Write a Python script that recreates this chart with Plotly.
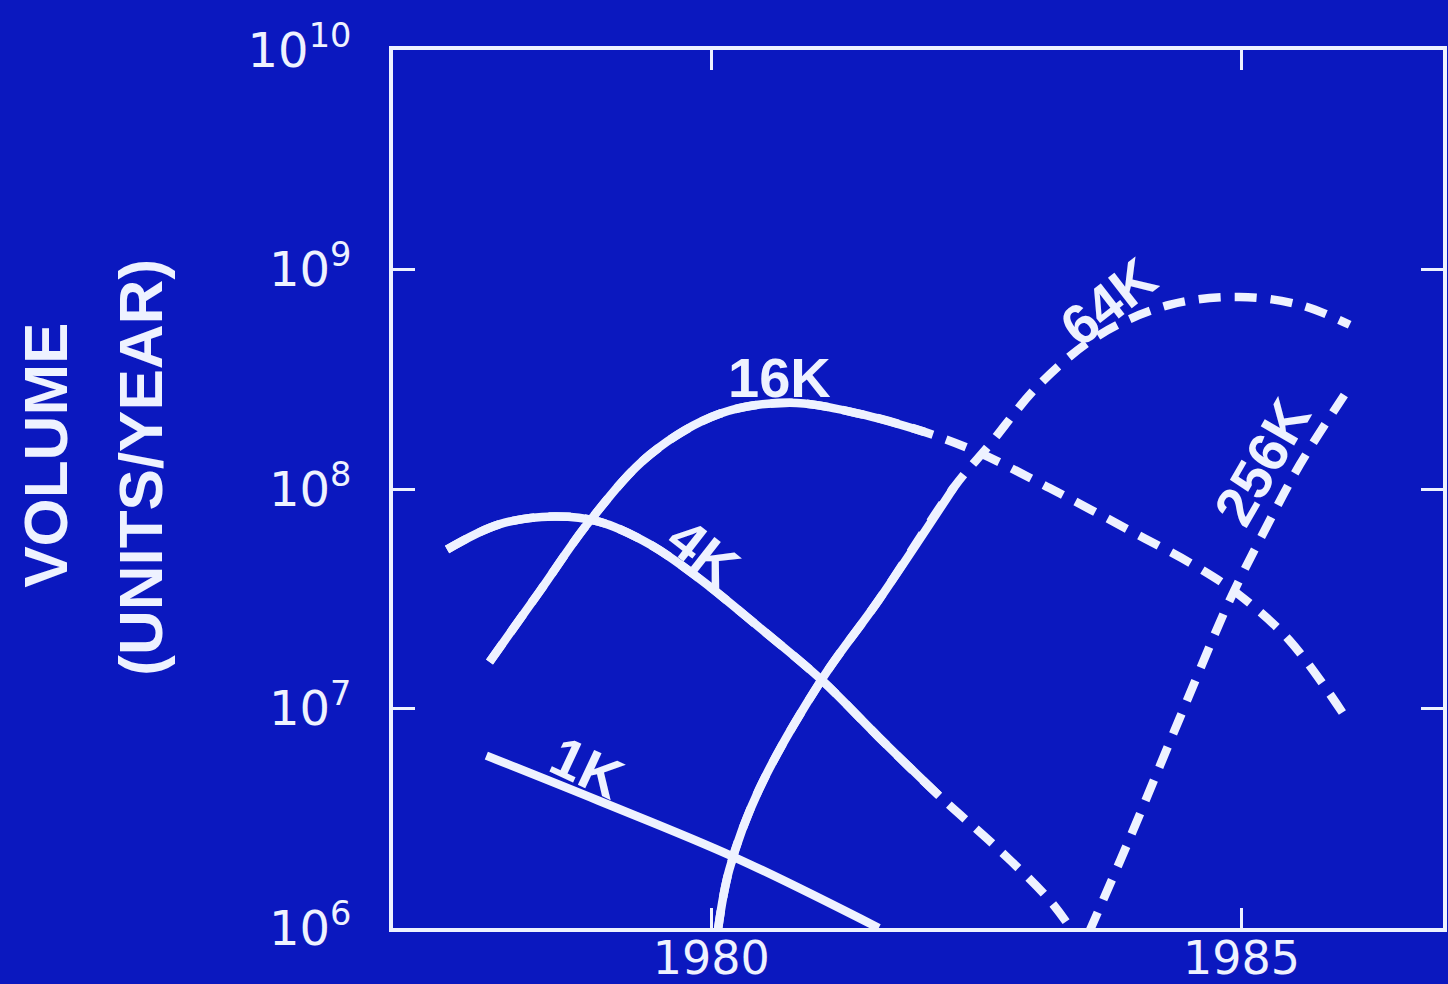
import plotly.graph_objects as go

# ---- data (year, units/year) ----
k1_year = [1977.88, 1978.94, 1980.22, 1981.58]
k1_vol = [6.1e6, 3.8e6, 2.1e6, 1.0e6]

# 4K: solid part, then dashed continuation
k4_year = [1977.51, 1978.0, 1978.52, 1978.94, 1979.42, 1979.89, 1980.45, 1981.04, 1981.58, 1982.15]
k4_vol = [5.3e7, 6.9e7, 7.5e7, 7.1e7, 5.6e7, 3.9e7, 2.35e7, 1.35e7, 7.4e6, 4.0e6]
k4d_year = [1982.72, 1983.19, 1983.42]
k4d_vol = [2.26e6, 1.34e6, 0.95e6]

k16_year = [1977.91, 1978.38, 1978.85, 1979.42, 1980.08, 1980.74, 1981.40, 1982.01]
k16_vol = [1.63e7, 3.4e7, 7.1e7, 1.43e8, 2.2e8, 2.47e8, 2.2e8, 1.82e8]
k16d_year = [1982.53, 1983.19, 1983.94, 1984.60, 1984.98, 1985.45, 1985.97]
k16d_vol = [1.46e8, 1.01e8, 6.5e7, 4.36e7, 3.29e7, 2.05e7, 9.3e6]

k64_year = [1980.06, 1980.17, 1980.45, 1981.04, 1981.58, 1982.29]
k64_vol = [0.95e6, 1.84e6, 4.26e6, 1.35e7, 3.12e7, 1.02e8]
k64d_year = [1982.62, 1983.09, 1983.66, 1984.32, 1984.98, 1985.55, 1986.02]
k64d_vol = [1.58e8, 2.98e8, 5.03e8, 6.9e8, 7.5e8, 6.9e8, 5.6e8]

k256d_year = [1983.56, 1983.94, 1984.42, 1984.89, 1985.22, 1985.55, 1985.97]
k256d_vol = [0.95e6, 2.52e6, 9.1e6, 3.12e7, 6.5e7, 1.29e8, 2.68e8]

x_tick_vals = [1980, 1985]
x_tick_text = ["1980", "1985"]
y_tick_vals = [1e6, 1e7, 1e8, 1e9, 1e10]
y_tick_text = ["10<sup>6</sup>", "10<sup>7</sup>", "10<sup>8</sup>", "10<sup>9</sup>", "10<sup>10</sup>"]

curve_labels = ["1K", "4K", "16K", "64K", "256K"]
label_year = [1978.83, 1979.93, 1980.64, 1983.75, 1985.19]
label_logvol = [6.729, 7.713, 8.506, 8.852, 8.123]
label_angle = [25, 38, 0, -38, -60]

# ---- style ----
BG = "#0b18bf"
FG = "#eef2ff"
LW = 8.5
DASH = "22px,14px"
LINE = dict(color=FG, width=LW, shape="spline", smoothing=1.0)

fig = go.Figure()

# dashed curves: whole curve drawn dashed; solid part laid over it
curves = [
    (k1_year, k1_vol, [], []),
    (k4_year, k4_vol, k4d_year, k4d_vol),
    (k16_year, k16_vol, k16d_year, k16d_vol),
    (k64_year, k64_vol, k64d_year, k64d_vol),
    ([], [], k256d_year, k256d_vol),
]
for sx, sy, dx, dy in curves:
    if dx:
        fig.add_trace(go.Scatter(x=sx + dx, y=sy + dy, mode="lines",
                                 line=dict(LINE, dash=DASH),
                                 showlegend=False, hoverinfo="skip"))
        if sx:
            fig.add_trace(go.Scatter(x=sx, y=sy, mode="lines", line=LINE,
                                     showlegend=False, hoverinfo="skip"))
    else:
        fig.add_trace(go.Scatter(x=sx, y=sy, mode="lines", line=LINE,
                                 showlegend=False, hoverinfo="skip"))

for txt, lx, ly, ang in zip(curve_labels, label_year, label_logvol, label_angle):
    fig.add_annotation(x=lx, y=ly, text=txt, showarrow=False, textangle=ang,
                       font=dict(family="Liberation Sans", size=56, color=FG, weight="bold"))

fig.add_annotation(xref="paper", yref="paper", x=-0.366, y=0.538, text="VOLUME",
                   showarrow=False, textangle=-90,
                   font=dict(family="Liberation Sans", size=62, color=FG, weight="bold"))
fig.add_annotation(xref="paper", yref="paper", x=-0.276, y=0.525, text="(UNITS/YEAR)",
                   showarrow=False, textangle=-90,
                   font=dict(family="Liberation Sans", size=62, color=FG, weight="bold"))

fig.update_layout(
    width=1448, height=984,
    margin=dict(l=393, r=5, t=50, b=56, autoexpand=False),
    paper_bgcolor=BG, plot_bgcolor=BG,
    showlegend=False,
)
fig.update_xaxes(range=[1977.0, 1986.9], tickvals=x_tick_vals, ticktext=x_tick_text,
                 ticks="inside", ticklen=20, tickwidth=2.5, tickcolor=FG,
                 showline=True, linecolor=FG, linewidth=4, mirror="allticks",
                 showgrid=False, zeroline=False, ticklabelstandoff=-13, automargin=False,
                 tickfont=dict(family="DejaVu Sans", size=46, color=FG))
fig.update_yaxes(type="log", range=[6, 10], tickvals=y_tick_vals, ticktext=y_tick_text,
                 ticks="inside", ticklen=22, tickwidth=2.5, tickcolor=FG,
                 showline=True, linecolor=FG, linewidth=4, mirror="allticks",
                 showgrid=False, zeroline=False, ticklabelstandoff=28, automargin=False,
                 tickfont=dict(family="DejaVu Sans", size=48, color=FG))

fig.write_html("out.html")
